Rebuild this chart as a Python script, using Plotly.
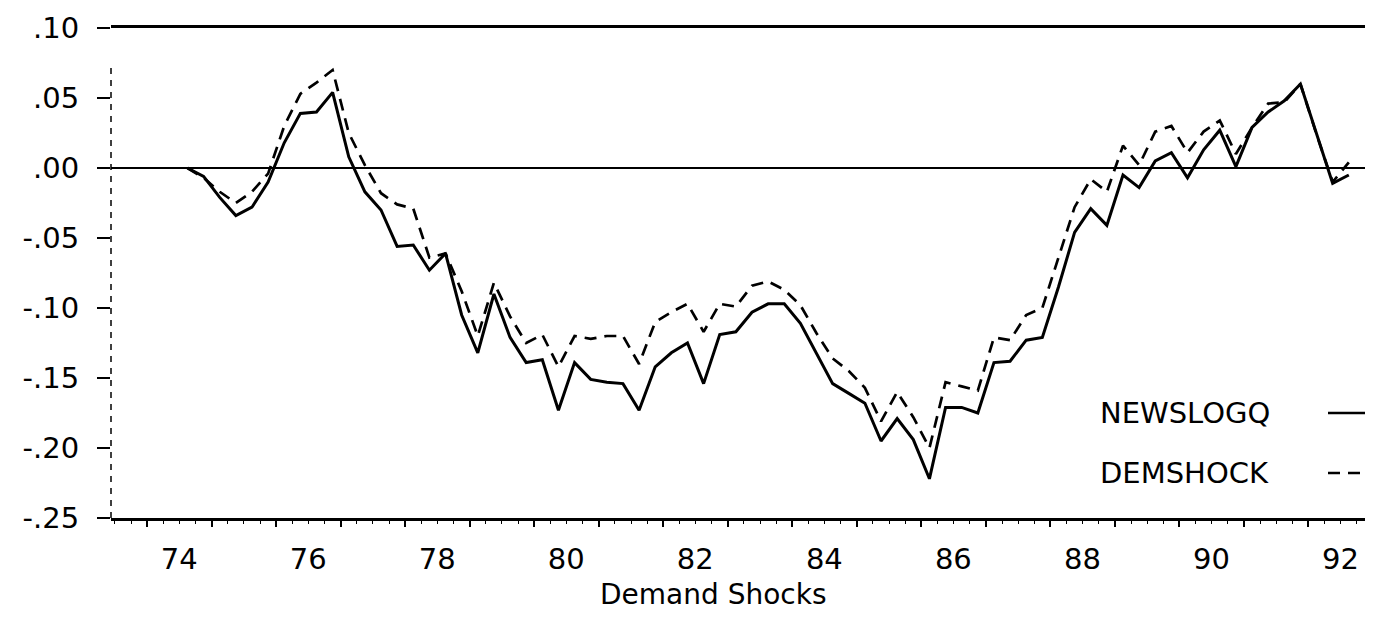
import numpy as np
import pandas as pd
import plotly.graph_objects as go

# quarterly series, 1974Q3 - 1992Q3
start_quarter = "1974Q3"
newslogq = [
    0.000, -0.006, -0.021, -0.034, -0.028, -0.010, 0.018, 0.039, 0.040, 0.054,
    0.008, -0.017, -0.030, -0.056, -0.055, -0.073, -0.061, -0.105, -0.132, -0.090,
    -0.121, -0.139, -0.137, -0.173, -0.139, -0.151, -0.153, -0.154, -0.173, -0.142,
    -0.132, -0.125, -0.154, -0.119, -0.117, -0.103, -0.097, -0.097, -0.111, -0.132,
    -0.154, -0.161, -0.168, -0.195, -0.179, -0.194, -0.222, -0.171, -0.171, -0.175,
    -0.139, -0.138, -0.123, -0.121, -0.085, -0.046, -0.029, -0.041, -0.005, -0.014,
    0.005, 0.011, -0.007, 0.013, 0.027, 0.001, 0.029, 0.040, 0.048, 0.060,
    0.024, -0.011, -0.005,
]
demshock = [
    0.000, -0.007, -0.017, -0.025, -0.017, -0.004, 0.030, 0.053, 0.061, 0.070,
    0.025, 0.002, -0.018, -0.026, -0.029, -0.064, -0.061, -0.088, -0.120, -0.082,
    -0.106, -0.125, -0.119, -0.142, -0.120, -0.122, -0.120, -0.120, -0.140, -0.110,
    -0.103, -0.097, -0.117, -0.097, -0.099, -0.084, -0.081, -0.087, -0.098, -0.118,
    -0.136, -0.145, -0.157, -0.181, -0.160, -0.178, -0.200, -0.153, -0.156, -0.159,
    -0.121, -0.123, -0.105, -0.100, -0.064, -0.028, -0.008, -0.017, 0.016, 0.002,
    0.026, 0.030, 0.011, 0.026, 0.034, 0.010, 0.029, 0.046, 0.047, 0.060,
    0.024, -0.010, 0.004,
]
series_names = ["NEWSLOGQ", "DEMSHOCK"]
x_title = "Demand Shocks"
years = list(range(1974, 1993))
year_labels = [str(y)[2:] if y % 2 == 0 else "" for y in years]
y_ticks = [-0.25, -0.20, -0.15, -0.10, -0.05, 0.00, 0.05, 0.10]
y_labels = ["-.25", "-.20", "-.15", "-.10", "-.05", ".00", ".05", ".10"]

q = pd.period_range(start_quarter, periods=len(newslogq), freq="Q")
x = q.year + (q.quarter - 0.5) / 4

FONT = "DejaVu Sans"
# page body has an 8px margin, so the figure is sized to fit inside the window
W, H = 1365, 604
L, R, T, B = 103, 0, 20, 94
DASH = "12px,8px"
plot_h = H - T - B
plot_w = W - L - R

fig = go.Figure()
fig.add_trace(go.Scatter(x=x, y=newslogq, mode="lines", name=series_names[0],
                         line=dict(color="black", width=3)))
fig.add_trace(go.Scatter(x=x, y=demshock, mode="lines", name=series_names[1],
                         line=dict(color="black", width=2.7, dash=DASH)))

fig.update_layout(
    width=W, height=H,
    margin=dict(l=L, r=R, t=T, b=B, autoexpand=False),
    plot_bgcolor="white", paper_bgcolor="white",
    showlegend=False,
    font=dict(family=FONT, color="black", size=28),
)
fig.update_xaxes(
    range=[1973.44, 1993.0], automargin=False,
    showgrid=False, zeroline=False,
    showline=True, mirror=True, linecolor="black", linewidth=2.5,
    tickmode="array", tickvals=years, ticktext=year_labels,
    ticks="outside", ticklen=6, tickwidth=1.5, tickcolor="black",
    ticklabelshift=32, ticklabelstandoff=7,
    tickfont=dict(size=29),
    minor=dict(ticks="outside", ticklen=3, tickwidth=1, tickcolor="black",
               tickmode="linear", tick0=1973, dtick=0.25, showgrid=False),
)
fig.update_yaxes(
    range=[-0.25, 0.10], automargin=False,
    showgrid=False, showline=False,
    zeroline=True, zerolinecolor="black", zerolinewidth=2.2,
    tickmode="array", tickvals=y_ticks, ticktext=y_labels,
    ticks="outside", ticklen=13, tickwidth=1.5, tickcolor="black",
    ticklabelstandoff=12, tickfont=dict(size=29),
)

# axis title under the tick labels
fig.add_annotation(x=(705 - L) / plot_w, y=-76 / plot_h, xref="paper", yref="paper",
                   text=x_title, showarrow=False, xanchor="center", yanchor="middle",
                   font=dict(size=28))

# dashed left axis
fig.add_shape(type="line", xref="paper", yref="paper", x0=0, x1=0, y0=0, y1=0.93,
              line=dict(color="black", width=1.5, dash="6px,6px"))

# legend: name on the left, line sample on the right
for i, (name, dash) in enumerate(zip(series_names, ["solid", DASH])):
    yp = (490 - (385 + 60 * i)) / plot_h
    fig.add_annotation(x=(1090 - L) / plot_w, y=yp, xref="paper", yref="paper",
                       text=name, showarrow=False, xanchor="left", yanchor="middle",
                       font=dict(size=29))
    fig.add_shape(type="line", xref="paper", yref="paper",
                  x0=(1320 - L) / plot_w, x1=1.0, y0=yp, y1=yp,
                  line=dict(color="black", width=2.7, dash=dash))

fig.write_html("out.html")
